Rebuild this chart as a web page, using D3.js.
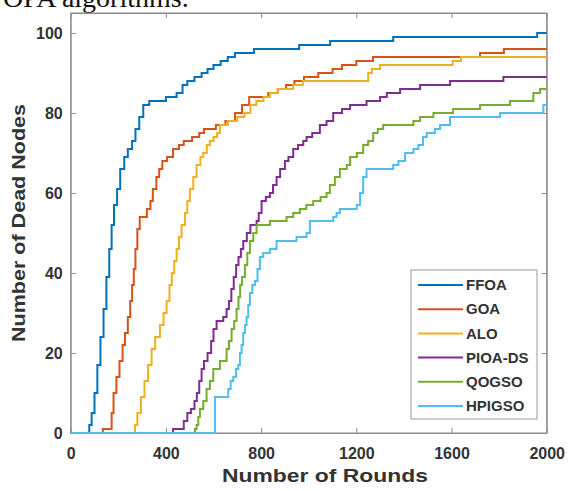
<!DOCTYPE html>
<html lang="en">

<head>
  <meta charset="UTF-8" />
  <title>Dead nodes vs rounds</title>
  <style>
    body {
      margin: 0;
      background: #fff;
    }

    svg {
      display: block;
    }

    .tick text,
    .lbl,
    .leg text {
      font-family: "Liberation Sans", Arial, Helvetica, sans-serif;
      font-weight: bold;
      fill: #333;
    }

    .caption {
      font-family: "Liberation Serif", "Times New Roman", serif;
      fill: #111;
    }
  </style>
</head>

<body>
  <div class="container"></div>

  <script src="https://d3js.org/d3.v7.min.js"></script>
  <script>
    // 資料 (round, dead nodes)
    const seriesNames = ['FFOA', 'GOA', 'ALO', 'PIOA-DS', 'QOGSO', 'HPIGSO'];
    const xTicks = [0, 400, 800, 1200, 1600, 2000];
    const yTicks = [0, 20, 40, 60, 80, 100];

    const ffoa = [[0, 0], [70, 0], [78, 2], [88, 5], [100, 10], [112, 17], [125, 24], [138, 31], [150, 39],
      [162, 46], [172, 52], [182, 57], [195, 61], [208, 66], [225, 69], [240, 71], [258, 73], [272, 76],
      [288, 79], [305, 82], [330, 83], [400, 84], [445, 85], [470, 87], [490, 88], [520, 89], [550, 90],
      [575, 91], [600, 92], [630, 93], [660, 94], [690, 95], [770, 96], [960, 97], [1090, 98], [1355, 99],
      [1960, 100], [2000, 100]];

    const goa = [[0, 0], [130, 0], [135, 1], [165, 1], [172, 5], [180, 10], [192, 14], [205, 18], [218, 22],
      [228, 25], [240, 29], [250, 33], [258, 37], [265, 41], [272, 46], [280, 51], [290, 54], [320, 56],
      [335, 58], [345, 61], [360, 64], [372, 66], [385, 68], [405, 69], [430, 71], [455, 72], [475, 73],
      [510, 74], [540, 75], [560, 76], [610, 77], [650, 78], [690, 80], [720, 82], [750, 84], [830, 85],
      [870, 86], [905, 87], [940, 88], [980, 89], [1040, 90], [1100, 91], [1140, 92], [1200, 93], [1270, 94],
      [1720, 95], [1820, 96], [2000, 96]];

    const alo = [[0, 0], [263, 0], [270, 2], [280, 5], [295, 9], [310, 13], [325, 17], [340, 21], [355, 24],
      [375, 27], [390, 30], [403, 33], [415, 37], [425, 40], [435, 43], [445, 46], [455, 49], [466, 52],
      [480, 55], [490, 58], [501, 61], [515, 64], [529, 67], [545, 69], [557, 70], [572, 72], [585, 73],
      [600, 74], [615, 75], [627, 77], [660, 78], [700, 79], [730, 80], [755, 82], [780, 83], [810, 84],
      [837, 85], [870, 86], [935, 87], [975, 88], [1250, 90], [1265, 91], [1300, 92], [1605, 93], [1640, 94],
      [2000, 94]];

    const pioa = [[0, 0], [417, 0], [430, 1], [459, 1], [475, 3], [490, 5], [505, 6], [520, 8], [530, 10],
      [540, 13], [550, 16], [560, 18], [575, 20], [590, 23], [600, 26], [613, 28], [641, 29], [655, 31],
      [665, 33], [675, 36], [685, 39], [695, 42], [705, 44], [715, 46], [725, 48], [740, 50], [755, 52],
      [781, 53], [790, 55], [802, 58], [820, 59], [837, 60], [850, 62], [865, 64], [880, 66], [900, 68],
      [915, 69], [935, 71], [955, 72], [977, 73], [991, 74], [1015, 75], [1047, 77], [1075, 78], [1103, 80],
      [1140, 81], [1174, 82], [1243, 83], [1300, 84], [1328, 85], [1384, 86], [1468, 87], [1594, 88],
      [1818, 89], [2000, 89]];

    const qogso = [[0, 0], [515, 0], [522, 1], [529, 2], [536, 4], [543, 6], [557, 8], [571, 11], [585, 13],
      [599, 16], [627, 18], [655, 21], [665, 23], [676, 26], [687, 28], [697, 31], [705, 34], [712, 37],
      [720, 39], [732, 42], [742, 45], [753, 48], [767, 50], [781, 52], [837, 53], [907, 54], [935, 55],
      [963, 56], [990, 57], [1019, 58], [1050, 59], [1075, 60], [1089, 62], [1110, 64], [1131, 66],
      [1160, 67], [1174, 69], [1202, 70], [1229, 72], [1250, 73], [1271, 75], [1290, 76], [1313, 77],
      [1440, 78], [1468, 79], [1524, 80], [1607, 81], [1720, 82], [1846, 83], [1944, 85], [1972, 86],
      [2000, 86]];

    const hpigso = [[0, 0], [599, 0], [606, 9], [662, 11], [672, 13], [683, 14], [695, 16], [704, 17],
      [711, 20], [718, 22], [725, 25], [732, 27], [739, 29], [746, 32], [753, 35], [763, 37], [774, 38],
      [785, 41], [795, 44], [809, 45], [837, 46], [865, 48], [949, 49], [991, 50], [1005, 53], [1103, 54],
      [1117, 55], [1131, 56], [1202, 57], [1216, 60], [1229, 64], [1243, 66], [1355, 67], [1377, 68],
      [1405, 70], [1440, 71], [1461, 72], [1480, 74], [1496, 75], [1530, 76], [1552, 77], [1594, 79],
      [1804, 80], [1986, 82], [2000, 82]];

    const allSeries = [ffoa, goa, alo, pioa, qogso, hpigso];
    const colors = ['#0072BD', '#D95319', '#EDB120', '#7E2F8E', '#77AC30', '#4DBEEE'];

    const W = 569, H = 491;
    const svg = d3.select('.container').append('svg')
      .attr('width', W).attr('height', H);

    // 上方被截掉的文字
    svg.append('text').attr('class', 'caption')
      .attr('x', 3).attr('y', 7)
      .style('font-size', '28px')
      .text('OPA algorithms.');

    let x = d3.scaleLinear().domain([0, 2000]).range([70.7, 546.7]);
    let y = d3.scaleLinear().domain([0, 105]).range([433, 13]);

    // 繪圖區 box
    svg.append('rect')
      .attr('x', x(0)).attr('y', y(105))
      .attr('width', x(2000) - x(0)).attr('height', y(0) - y(105))
      .attr('fill', '#fff').attr('stroke', '#8c8c8c').attr('stroke-width', 1);

    // 座標軸
    let gx = svg.append('g').attr('transform', `translate(0,${y(0)})`)
      .call(d3.axisBottom(x).tickValues(xTicks).tickFormat(d3.format('d'))
        .tickSizeInner(-5).tickSizeOuter(0).tickPadding(15));
    let gy = svg.append('g').attr('transform', `translate(${x(0)},0)`)
      .call(d3.axisLeft(y).tickValues(yTicks).tickFormat(d3.format('d'))
        .tickSizeInner(-5).tickSizeOuter(0).tickPadding(8));
    let gxt = svg.append('g').attr('transform', `translate(0,${y(105)})`)
      .call(d3.axisTop(x).tickValues(xTicks).tickSizeInner(-5).tickSizeOuter(0).tickFormat(''));
    let gyr = svg.append('g').attr('transform', `translate(${x(2000)},0)`)
      .call(d3.axisRight(y).tickValues(yTicks).tickSizeInner(-5).tickSizeOuter(0).tickFormat(''));

    [gx, gy, gxt, gyr].forEach(g => {
      g.select('.domain').attr('stroke', '#8c8c8c');
      g.selectAll('.tick line').attr('stroke', '#8c8c8c');
      g.selectAll('.tick text').style('font-size', '16px');
    });

    // 曲線
    let line = d3.line()
      .x(d => x(d[0]))
      .y(d => y(d[1]))
      .curve(d3.curveStepAfter);

    svg.append('g')
      .selectAll('path')
      .data(allSeries)
      .join('path')
      .attr('d', line)
      .attr('fill', 'none')
      .attr('stroke', (d, i) => colors[i])
      .attr('stroke-width', 2);

    // 軸標題
    svg.append('text').attr('class', 'lbl')
      .attr('x', 325).attr('y', 482)
      .attr('text-anchor', 'middle')
      .attr('textLength', 206).attr('lengthAdjust', 'spacingAndGlyphs')
      .style('font-size', '19px')
      .text('Number of Rounds');

    svg.append('text').attr('class', 'lbl')
      .attr('transform', 'translate(25,223) rotate(-90)')
      .attr('text-anchor', 'middle')
      .attr('textLength', 238).attr('lengthAdjust', 'spacingAndGlyphs')
      .style('font-size', '18px')
      .text('Number of Dead Nodes');

    // 圖例
    let leg = svg.append('g').attr('class', 'leg');
    leg.append('rect')
      .attr('x', 411).attr('y', 270).attr('width', 126).attr('height', 149)
      .attr('fill', '#fff').attr('stroke', '#9a9a9a');

    let items = leg.selectAll('g.item')
      .data(seriesNames)
      .join('g')
      .attr('class', 'item')
      .attr('transform', (d, i) => `translate(0,${285 + i * 24.2})`);

    items.append('line')
      .attr('x1', 418).attr('x2', 463)
      .attr('stroke', (d, i) => colors[i])
      .attr('stroke-width', 2);

    items.append('text')
      .attr('x', 466).attr('dy', '0.35em')
      .style('font-size', '15px')
      .text(d => d);
  </script>
</body>

</html>
